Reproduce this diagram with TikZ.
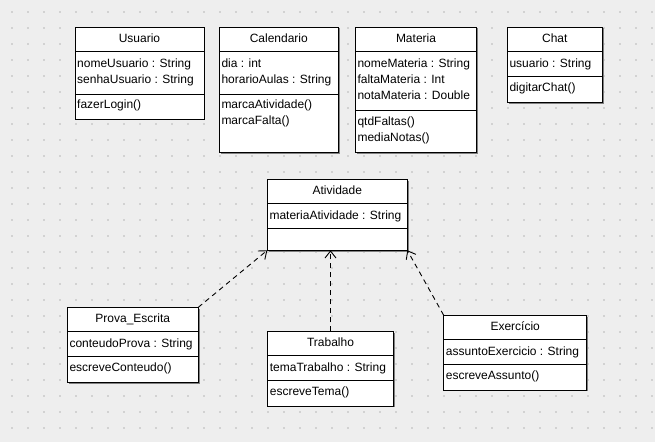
\documentclass[tikz,border=0pt]{standalone}
\usepackage{fontspec}
\setmainfont{Liberation Sans}
\usetikzlibrary{arrows.meta,shadows}
\definecolor{bgcol}{HTML}{EEEEEE}
\definecolor{dotcol}{HTML}{D2D2D2}
\begin{document}
\begin{tikzpicture}[x=1pt,y=-1pt,
  cls/.style={draw=black, fill=white, line width=1pt, anchor=north west, inner sep=0pt, outer sep=0pt,
    drop shadow={shadow xshift=1.3pt, shadow yshift=-1.3pt, fill=black!50, opacity=1}},
  divl/.style={draw=black, line width=1pt},
  ttl/.style={anchor=base, font=\fontsize{12}{14}\selectfont, inner sep=0pt},
  mem/.style={anchor=base west, font=\fontsize{12}{14}\selectfont, inner sep=0pt},
  dep/.style={draw=black, line width=0.9pt, dash pattern=on 5pt off 4pt,
    -{Straight Barb[length=7pt,width=11pt,line width=0.9pt]}}]
\useasboundingbox (0,0) rectangle (655,442);
\fill[bgcol] (0,0) rectangle (655,442);
\foreach \i in {0,...,40} {
  \foreach \j in {0,...,26} {
    \fill[dotcol] ({12+16*\i-0.8},{12+16*\j-0.8}) rectangle ++(1.6,1.6);
  }
}

% Usuario
\node[cls, minimum width=129pt, minimum height=92pt] (usuario) at (75,27) {};
\draw[divl] (75,51) -- (204,51);
\draw[divl] (75,94) -- (204,94);
\node[ttl] (usuarioT) at (139.5,42) {Usuario};
\node[mem] (usuarioA1) at (77,67) {nomeUsuario : String};
\node[mem] (usuarioA2) at (77,83.5) {senhaUsuario : String};
\node[mem] (usuarioM1) at (77,108) {fazerLogin()};

% Calendario
\node[cls, minimum width=119pt, minimum height=125.5pt] (calendario) at (219.3,27) {};
\draw[divl] (219.3,51) -- (338.3,51);
\draw[divl] (219.3,94) -- (338.3,94);
\node[ttl] (calendarioT) at (278.8,42) {Calendario};
\node[mem] (calendarioA1) at (221.3,67) {dia : int};
\node[mem] (calendarioA2) at (221.3,83.5) {horarioAulas : String};
\node[mem] (calendarioM1) at (221.3,108) {marcaAtividade()};
\node[mem] (calendarioM2) at (221.3,124.5) {marcaFalta()};

% Materia
\node[cls, minimum width=121.4pt, minimum height=125.5pt] (materia) at (355.3,27) {};
\draw[divl] (355.3,51) -- (476.7,51);
\draw[divl] (355.3,110.3) -- (476.7,110.3);
\node[ttl] (materiaT) at (416,42) {Materia};
\node[mem] (materiaA1) at (357.3,67) {nomeMateria : String};
\node[mem] (materiaA2) at (357.3,83.3) {faltaMateria : Int};
\node[mem] (materiaA3) at (357.3,99.6) {notaMateria : Double};
\node[mem] (materiaM1) at (357.3,125.3) {qtdFaltas()};
\node[mem] (materiaM2) at (357.3,141.8) {mediaNotas()};

% Chat
\node[cls, minimum width=95pt, minimum height=75.3pt] (chat) at (507.3,27) {};
\draw[divl] (507.3,51) -- (602.3,51);
\draw[divl] (507.3,76.3) -- (602.3,76.3);
\node[ttl] (chatT) at (554.8,42) {Chat};
\node[mem] (chatA1) at (509.3,67) {usuario : String};
\node[mem] (chatM1) at (509.3,91) {digitarChat()};

% Atividade
\node[cls, minimum width=140pt, minimum height=71pt] (atividade) at (267.3,179.3) {};
\draw[divl] (267.3,203.3) -- (407.3,203.3);
\draw[divl] (267.3,228.3) -- (407.3,228.3);
\node[ttl] (atividadeT) at (337.3,194) {Atividade};
\node[mem] (atividadeA1) at (269.3,219) {materiaAtividade : String};

% Prova_Escrita
\node[cls, minimum width=131pt, minimum height=75pt] (prova) at (67.3,307.3) {};
\draw[divl] (67.3,331.7) -- (198.3,331.7);
\draw[divl] (67.3,356) -- (198.3,356);
\node[ttl] (provaT) at (132.8,322.3) {Prova\_Escrita};
\node[mem] (provaA1) at (69.3,347) {conteudoProva : String};
\node[mem] (provaM1) at (69.3,371) {escreveConteudo()};

% Trabalho
\node[cls, minimum width=125.6pt, minimum height=74.7pt] (trabalho) at (267.7,331.3) {};
\draw[divl] (267.7,355.3) -- (393.3,355.3);
\draw[divl] (267.7,380.3) -- (393.3,380.3);
\node[ttl] (trabalhoT) at (330.5,346.3) {Trabalho};
\node[mem] (trabalhoA1) at (269.7,371) {temaTrabalho : String};
\node[mem] (trabalhoM1) at (269.7,395) {escreveTema()};

% Exercicio
\node[cls, minimum width=143pt, minimum height=74.7pt] (exercicio) at (443.7,315.3) {};
\draw[divl] (443.7,339.3) -- (586.7,339.3);
\draw[divl] (443.7,364.7) -- (586.7,364.7);
\node[ttl] (exercicioT) at (515.2,330.3) {Exercício};
\node[mem] (exercicioA1) at (445.7,355) {assuntoExercicio : String};
\node[mem] (exercicioM1) at (445.7,379.5) {escreveAssunto()};

% dependencies
\draw[dep] (prova.north east) -- (atividade.south west);
\draw[dep] (trabalho.north) -- (trabalho.north |- atividade.south);
\draw[dep] (exercicio.north west) -- (atividade.south east);
\end{tikzpicture}
\end{document}
